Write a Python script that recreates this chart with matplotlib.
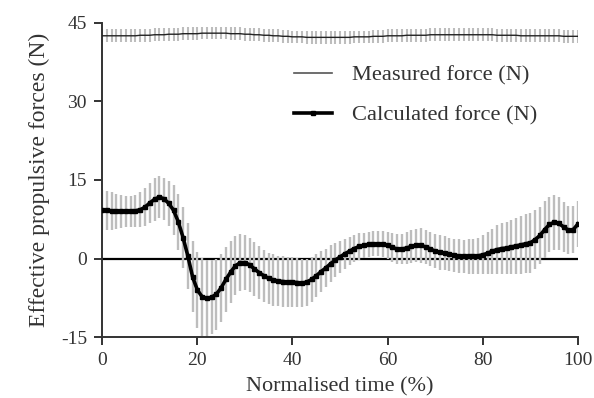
import matplotlib
matplotlib.use('Agg')
import matplotlib.pyplot as plt
from matplotlib.lines import Line2D
import numpy as np

plt.rcParams['font.family'] = ['Liberation Serif', 'DejaVu Serif']
plt.rcParams['font.size'] = 14
plt.rcParams['axes.unicode_minus'] = False

# normalised time (%)
time_pct = list(range(0, 101))

# calculated force mean and SD (N)
calc_mean = [9.3, 9.2, 9.1, 9.0, 9.0, 9.0, 9.0, 9.1, 9.3, 9.8,
             10.6, 11.3, 11.7, 11.4, 10.5, 9.2, 7.0, 4.0, 0.5, -3.5,
             -6.0, -7.3, -7.6, -7.4, -6.8, -5.6, -4.0, -2.6, -1.4, -0.8,
             -0.8, -1.2, -2.0, -2.7, -3.3, -3.8, -4.1, -4.3, -4.4, -4.5,
             -4.5, -4.6, -4.7, -4.5, -4.0, -3.3, -2.5, -1.8, -1.0, -0.3,
             0.3, 0.9, 1.4, 1.9, 2.3, 2.5, 2.7, 2.8, 2.8, 2.7,
             2.5, 2.1, 1.8, 1.8, 2.0, 2.3, 2.5, 2.5, 2.2, 1.8,
             1.4, 1.2, 1.0, 0.8, 0.6, 0.5, 0.4, 0.4, 0.4, 0.5,
             0.7, 1.0, 1.4, 1.7, 1.9, 2.0, 2.2, 2.4, 2.6, 2.8,
             3.0, 3.6, 4.4, 5.5, 6.5, 6.9, 6.7, 6.0, 5.4, 5.5,
             6.6]
calc_sd = [3.8, 3.7, 3.6, 3.4, 3.2, 3.0, 2.9, 3.0, 3.3, 3.6,
           3.9, 4.1, 4.0, 4.0, 4.3, 4.8, 5.3, 5.8, 6.3, 6.8,
           7.2, 7.4, 7.3, 7.1, 6.8, 6.5, 6.2, 5.9, 5.6, 5.4,
           5.3, 5.2, 5.1, 5.0, 5.0, 4.9, 4.9, 4.8, 4.8, 4.8,
           4.8, 4.7, 4.6, 4.5, 4.3, 4.1, 3.9, 3.7, 3.5, 3.3,
           3.1, 2.9, 2.7, 2.6, 2.5, 2.4, 2.4, 2.4, 2.4, 2.5,
           2.6, 2.7, 2.8, 2.9, 3.0, 3.1, 3.2, 3.3, 3.3, 3.3,
           3.3, 3.3, 3.2, 3.2, 3.2, 3.2, 3.2, 3.3, 3.4, 3.5,
           3.7, 4.0, 4.3, 4.6, 4.8, 5.0, 5.2, 5.4, 5.5, 5.6,
           5.7, 5.6, 5.5, 5.4, 5.3, 5.2, 5.0, 4.8, 4.6, 4.5,
           4.4]

# measured force mean and SD (N)
meas_mean = [42.5, 42.5, 42.5, 42.5, 42.5, 42.5, 42.5, 42.5, 42.6, 42.6,
             42.6, 42.7, 42.7, 42.7, 42.8, 42.8, 42.8, 42.9, 42.9, 42.9,
             42.9, 43.0, 43.0, 43.0, 43.0, 43.0, 43.0, 42.9, 42.9, 42.9,
             42.8, 42.8, 42.7, 42.7, 42.6, 42.6, 42.5, 42.5, 42.4, 42.4,
             42.3, 42.3, 42.3, 42.2, 42.2, 42.2, 42.2, 42.2, 42.2, 42.2,
             42.2, 42.2, 42.2, 42.3, 42.3, 42.3, 42.3, 42.4, 42.4, 42.4,
             42.5, 42.5, 42.5, 42.5, 42.6, 42.6, 42.6, 42.6, 42.6, 42.7,
             42.7, 42.7, 42.7, 42.7, 42.7, 42.7, 42.7, 42.7, 42.7, 42.7,
             42.7, 42.7, 42.7, 42.6, 42.6, 42.6, 42.6, 42.6, 42.5, 42.5,
             42.5, 42.5, 42.5, 42.5, 42.5, 42.5, 42.5, 42.4, 42.4, 42.4,
             42.4]
meas_sd = [1.2] * 101

fig = plt.figure(figsize=(5.94, 3.98), dpi=100)
ax = fig.add_axes([0.172, 0.153, 0.801, 0.79])

grey = '#bdbdbd'
ax.axhline(0, color='black', lw=1.6, zorder=1)

ax.errorbar(time_pct, meas_mean, yerr=meas_sd, fmt='none', ecolor=grey,
            elinewidth=1.5, capsize=0, zorder=2)
ax.plot(time_pct, meas_mean, color='#222222', lw=1.0, zorder=3)

ax.errorbar(time_pct, calc_mean, yerr=calc_sd, fmt='none', ecolor=grey,
            elinewidth=1.7, capsize=0, zorder=2)
ax.plot(time_pct, calc_mean, color='black', lw=2.6, marker='s',
        markersize=3.5, zorder=4)

ax.set_xlim(0, 100)
ax.set_ylim(-15, 45)
ax.set_xticks([0, 20, 40, 60, 80, 100])
ax.set_yticks([-15, 0, 15, 30, 45])
ax.spines['top'].set_visible(False)
ax.spines['right'].set_visible(False)
for s in ['left', 'bottom']:
    ax.spines[s].set_linewidth(1.4)
    ax.spines[s].set_color('#333333')
ax.tick_params(direction='out', length=6, width=1.4, color='#333333',
               labelsize=14, labelcolor='#333333', pad=5)
ax.set_xlabel('Normalised time (%)', fontsize=16, color='#333333', labelpad=6)
ax.set_ylabel('Effective propulsive forces (N)', fontsize=17, color='#333333',
              labelpad=8)

handles = [Line2D([0], [0], color='#555555', lw=1.2),
           Line2D([0], [0], color='black', lw=2.6, marker='s', markersize=3.5)]
ax.legend(handles, ['Measured force (N)', 'Calculated force (N)'],
          loc='upper left', bbox_to_anchor=(0.36, 0.93), frameon=False,
          fontsize=16.2, handlelength=1.7, labelspacing=0.85,
          handletextpad=0.9, labelcolor='#333333')

fig.savefig('out.png', dpi=100)
